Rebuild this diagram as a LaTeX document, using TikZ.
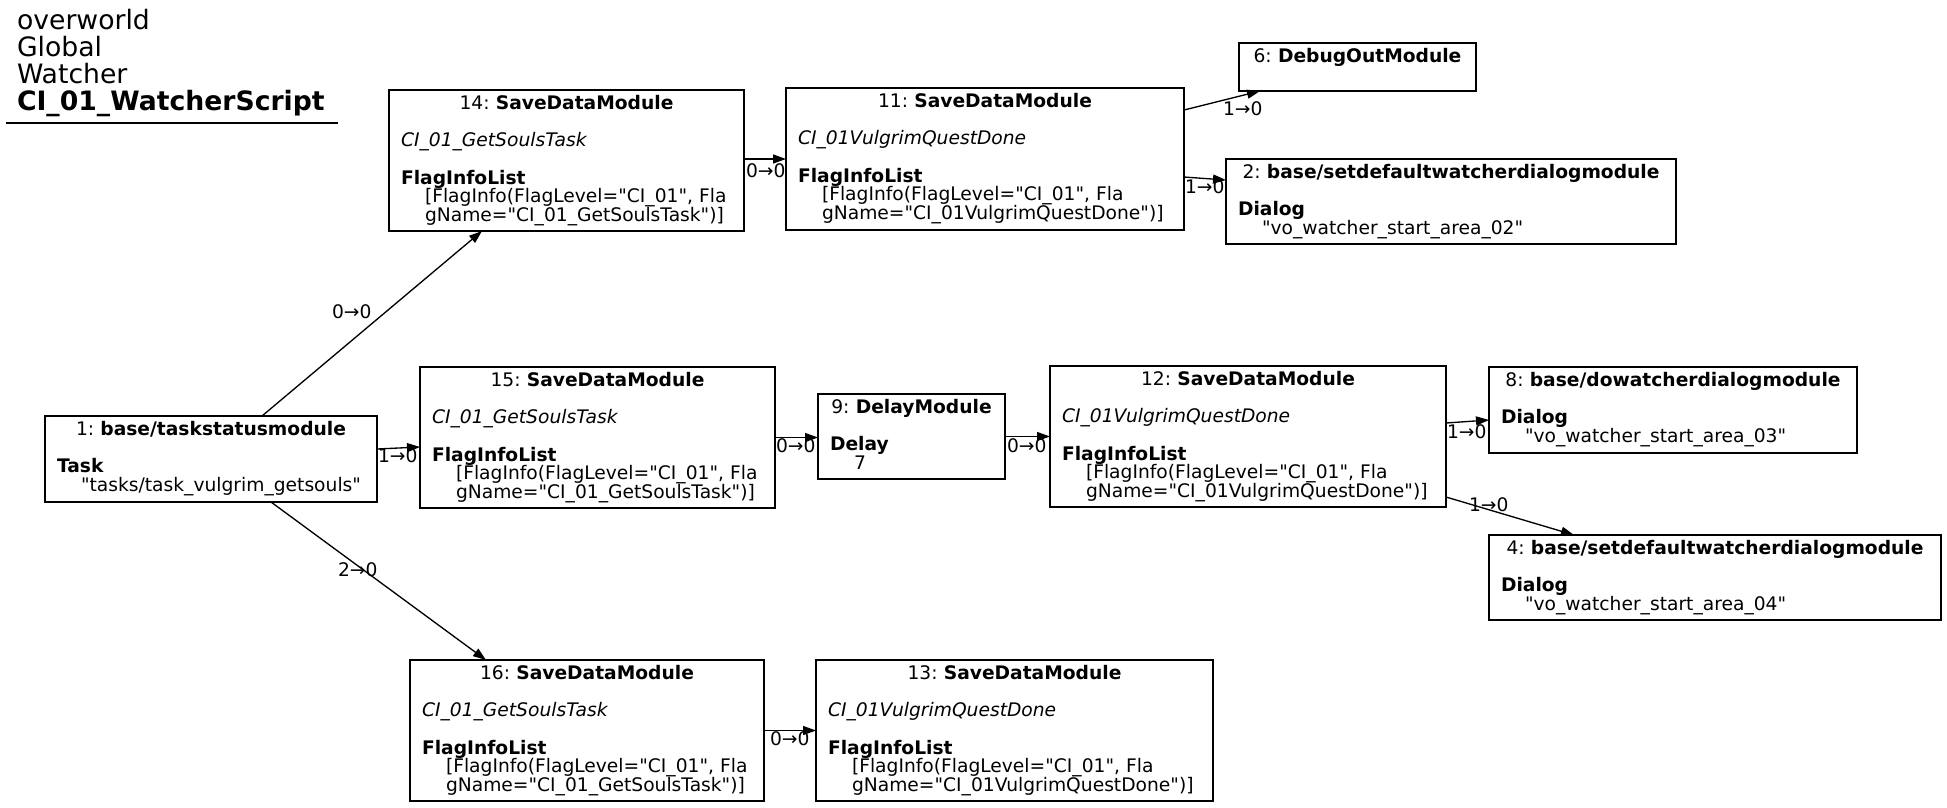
\documentclass[tikz,border=0pt]{standalone}
\usepackage{fontspec}
\newfontfamily\dv{DejaVu Sans}
\usetikzlibrary{arrows.meta,calc}
\newcommand{\nfont}{\dv\fontsize{18.67pt}{18.67pt}\selectfont\lineskiplimit=-50pt\relax\frenchspacing}
\newcommand{\tfont}{\dv\fontsize{26.67pt}{26.67pt}\selectfont\frenchspacing}
\newcommand{\ind}{\hspace*{24pt}}
\tikzset{
  box/.style={draw=black, line width=1.33pt, inner sep=0pt, outer sep=0pt, fill=white},
  txt/.style={inner sep=0pt, outer sep=0pt, align=left, font=\nfont},
  lbl/.style={inner sep=0pt, outer sep=0pt, anchor=base west, font=\nfont},
  ttl/.style={inner sep=0pt, outer sep=0pt, anchor=base west, font=\tfont},
  edge/.style={line width=1.33pt, -{Triangle[length=13pt,width=9pt]}},
}
% #1 name, #2 left, #3 top, #4 right, #5 bottom, #6 content
\newcommand{\gbox}[6]{%
  \pgfmathsetmacro{\gw}{#4-#2}%
  \pgfmathsetmacro{\gh}{#5-#3}%
  \pgfmathsetmacro{\gt}{#4-#2-24}%
  \node[box, minimum width=\gw pt, minimum height=\gh pt, anchor=north west] (#1) at (#2,#3) {};
  \node[txt, text width=\gt pt, anchor=base west] (#1t) at (#2+12,#3+19.5) {#6};
}
\newcommand{\sdm}[3]{\makebox[\linewidth]{#1: \textbf{SaveDataModule}}\\[18.67pt]
\textit{#2}\\[18.67pt]
\textbf{FlagInfoList}\\
\ind\mbox{[FlagInfo(FlagLevel="CI\_01", Fla}\\
\ind\mbox{gName="#3")]}}
\begin{document}
\frenchspacing
\begin{tikzpicture}[x=1pt,y=-1pt]
\useasboundingbox (0,0) rectangle (1947,807);
\fill[white] (0,0) rectangle (1947,807);
% title
\node[ttl] (h1) at (17,29.5) {overworld};
\node[ttl] (h2) at (17,56.3) {Global};
\node[ttl] (h3) at (17,83.2) {Watcher};
\node[ttl] (h4) at (17,110) {\textbf{CI\_01\_WatcherScript}};
\draw[line width=1.33pt] (6,123) -- (338,123);
% boxes
\gbox{n1}{45}{416}{377}{502}{\makebox[\linewidth]{1: \textbf{base/taskstatusmodule}}\\[18.67pt]
\textbf{Task}\\
\ind\mbox{"tasks/task\_vulgrim\_getsouls"}}
\gbox{n14}{389}{90}{744}{231}{\sdm{14}{CI\_01\_GetSoulsTask}{CI\_01\_GetSoulsTask}}
\gbox{n11}{786}{88}{1184}{230}{\sdm{11}{CI\_01VulgrimQuestDone}{CI\_01VulgrimQuestDone}}
\gbox{n6}{1239}{43}{1476}{91}{\makebox[\linewidth]{6: \textbf{DebugOutModule}}}
\gbox{n2}{1226}{159}{1676}{244}{\makebox[\linewidth]{2: \textbf{base/setdefaultwatcherdialogmodule}}\\[18.67pt]
\textbf{Dialog}\\
\ind\mbox{"vo\_watcher\_start\_area\_02"}}
\gbox{n15}{420}{367}{775}{508}{\sdm{15}{CI\_01\_GetSoulsTask}{CI\_01\_GetSoulsTask}}
\gbox{n9}{818}{394}{1005}{479}{\makebox[\linewidth]{9: \textbf{DelayModule}}\\[18.67pt]
\textbf{Delay}\\
\ind 7}
\gbox{n12}{1050}{366}{1446}{507}{\sdm{12}{CI\_01VulgrimQuestDone}{CI\_01VulgrimQuestDone}}
\gbox{n8}{1489}{367}{1857}{453}{\makebox[\linewidth]{8: \textbf{base/dowatcherdialogmodule}}\\[18.67pt]
\textbf{Dialog}\\
\ind\mbox{"vo\_watcher\_start\_area\_03"}}
\gbox{n4}{1489}{535}{1941}{620}{\makebox[\linewidth]{4: \textbf{base/setdefaultwatcherdialogmodule}}\\[18.67pt]
\textbf{Dialog}\\
\ind\mbox{"vo\_watcher\_start\_area\_04"}}
\gbox{n16}{410}{660}{764}{801}{\sdm{16}{CI\_01\_GetSoulsTask}{CI\_01\_GetSoulsTask}}
\gbox{n13}{816}{660}{1213}{801}{\sdm{13}{CI\_01VulgrimQuestDone}{CI\_01VulgrimQuestDone}}
% edges
\draw[edge] (n14.east |- n11.west) -- (n11.west);
\draw[edge] ($(n11.north east)+(0,22)$) -- ($(n6.south west)+(21,0)$);
\draw[edge] ($(n11.north east)+(0,89)$) -- ($(n2.north west)+(0,21)$);
\draw[edge] ($(n1.north west)+(217,0)$) -- ($(n14.south west)+(93,0)$);
\draw[edge] ($(n1.north east)+(0,33)$) -- ($(n15.north west)+(0,80)$);
\draw[edge] ($(n1.south west)+(226,0)$) -- ($(n16.north west)+(76,0)$);
\draw[edge] (n15.east) -- (n15.east -| n9.west);
\draw[edge] (n9.east) -- (n9.east -| n12.west);
\draw[edge] ($(n12.north east)+(0,57)$) -- ($(n8.north west)+(0,53)$);
\draw[edge] ($(n12.north east)+(0,131)$) -- ($(n4.north west)+(85,0)$);
\draw[edge] (n16.east) -- (n16.east -| n13.west);
% edge labels
\node[lbl] (l1) at (746,177) {0→0};
\node[lbl] (l2) at (1223,115) {1→0};
\node[lbl] (l3) at (1185,193) {1→0};
\node[lbl] (l4) at (332,318) {0→0};
\node[lbl] (l5) at (378,462) {1→0};
\node[lbl] (l6) at (338,576) {2→0};
\node[lbl] (l7) at (776,452) {0→0};
\node[lbl] (l8) at (1007,452) {0→0};
\node[lbl] (l9) at (1447,438) {1→0};
\node[lbl] (l10) at (1469,511) {1→0};
\node[lbl] (l11) at (770,745) {0→0};
\end{tikzpicture}
\end{document}
